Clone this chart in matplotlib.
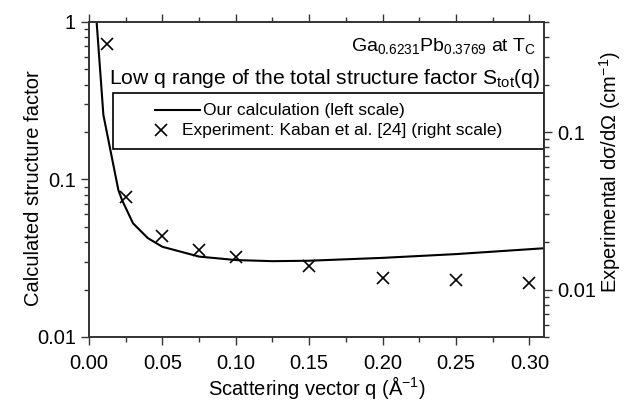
import matplotlib
matplotlib.use("Agg")
import matplotlib.pyplot as plt
from matplotlib.patches import Rectangle
from matplotlib.ticker import MultipleLocator, LogLocator, NullFormatter, FixedLocator, FixedFormatter

plt.rcParams['font.family'] = ['Liberation Sans', 'DejaVu Sans']
plt.rcParams['mathtext.fontset'] = 'custom'
plt.rcParams['mathtext.rm'] = 'Liberation Sans'
plt.rcParams['mathtext.it'] = 'Liberation Sans:italic'
plt.rcParams['mathtext.bf'] = 'Liberation Sans:bold'

# Calculated structure factor (left scale)
calc_q = [0.0052, 0.0098, 0.020, 0.0225, 0.030, 0.040, 0.050, 0.075, 0.100, 0.125, 0.150, 0.200, 0.250, 0.310]
calc_s = [1.0, 0.257, 0.0858, 0.0741, 0.0527, 0.0425, 0.0374, 0.0324, 0.0308, 0.0303, 0.0305, 0.0318, 0.0336, 0.0366]

# Experimental data (right scale)
exp_q = [0.0125, 0.025, 0.05, 0.075, 0.10, 0.15, 0.20, 0.25, 0.30]
exp_v = [0.362, 0.0387, 0.0220, 0.0178, 0.0160, 0.0141, 0.0119, 0.0115, 0.0110]

x_ticks = [0.00, 0.05, 0.10, 0.15, 0.20, 0.25, 0.30]
x_labels = ["0.00", "0.05", "0.10", "0.15", "0.20", "0.25", "0.30"]
legend_labels = ["Our calculation (left scale)", "Experiment: Kaban et al. [24] (right scale)"]

W, H = 631, 401
fig = plt.figure(figsize=(W / 100, H / 100), dpi=100)
L, R, T, B = 89, 544, 22, 337
ax = fig.add_axes([L / W, (H - B) / H, (R - L) / W, (B - T) / H])
ax2 = ax.twinx()

def ax_x(px):
    return (px - L) / (R - L)

def ax_y(py):
    return (B - py) / (B - T)

spine_col = '#333333'
ax.plot(calc_q, calc_s, color='black', lw=1.5)
ax2.plot(exp_q, exp_v, linestyle='none', marker='x', color='black', ms=9, mew=1.2)

ax.set_xlim(0, 0.31)
ax.set_yscale('log')
ax.set_ylim(0.01, 1)
ax2.set_yscale('log')
ax2.set_ylim(0.005, 0.5)

ax.xaxis.set_major_locator(FixedLocator(x_ticks))
ax.xaxis.set_major_formatter(FixedFormatter(x_labels))
ax.xaxis.set_minor_locator(MultipleLocator(0.025))
ax.yaxis.set_major_locator(FixedLocator([0.01, 0.1, 1]))
ax.yaxis.set_major_formatter(FixedFormatter(["0.01", "0.1", "1"]))
ax.yaxis.set_minor_locator(LogLocator(base=10, subs=range(2, 10)))
ax.yaxis.set_minor_formatter(NullFormatter())
ax2.yaxis.set_major_locator(FixedLocator([0.01, 0.1]))
ax2.yaxis.set_major_formatter(FixedFormatter(["0.01", "0.1"]))
ax2.yaxis.set_minor_locator(LogLocator(base=10, subs=range(2, 10)))
ax2.yaxis.set_minor_formatter(NullFormatter())

for a in (ax, ax2):
    for s in a.spines.values():
        s.set_color(spine_col)
        s.set_linewidth(1.2)
    a.tick_params(which='both', direction='out', colors=spine_col, labelcolor='black', labelsize=14.5, width=1.0)
    a.tick_params(which='major', length=6)
    a.tick_params(which='minor', length=3.5)
ax.tick_params(which='both', top=True)
ax.tick_params(axis='x', pad=6)

ax.set_xlabel(r"Scattering vector q ($\mathrm{\AA}^{\mathrm{-1}}$)", fontsize=14.5, labelpad=1)
ax.set_ylabel("Calculated structure factor", fontsize=14.5)
ax.yaxis.set_label_coords(ax_x(43), ax_y(188))
ax2.set_ylabel(r"Experimental d$\mathrm{\sigma}$/d$\mathrm{\Omega}$ (cm$^{\mathrm{-1}}$)", fontsize=14.5)
ax2.yaxis.set_label_coords(ax_x(597), ax_y(172))

ax.text(ax_x(536), ax_y(46), r"Ga$_{\mathrm{0.6231}}$Pb$_{\mathrm{0.3769}}$ at T$_{\mathrm{C}}$",
        transform=ax.transAxes, ha='right', va='center', fontsize=14)
ax.text(ax_x(540), ax_y(79), r"Low q range of the total structure factor S$_{\mathrm{tot}}$(q)",
        transform=ax.transAxes, ha='right', va='center', fontsize=15.2)

# legend (frame, sample marks and texts)
ax.add_patch(Rectangle((ax_x(113), ax_y(149)), 1 - ax_x(113), ax_y(93) - ax_y(149),
                       transform=ax.transAxes, fill=False, edgecolor='black', lw=1.2, zorder=5))
ax.plot([ax_x(155), ax_x(200)], [ax_y(110), ax_y(110)], transform=ax.transAxes,
        color='black', lw=1.5, clip_on=False)
ax.plot([ax_x(161)], [ax_y(130)], transform=ax.transAxes, linestyle='none', marker='x',
        color='black', ms=9, mew=1.2, clip_on=False)
ax.text(ax_x(203), ax_y(110), legend_labels[0], transform=ax.transAxes,
        ha='left', va='center', fontsize=12.5)
ax.text(ax_x(182), ax_y(130), legend_labels[1], transform=ax.transAxes,
        ha='left', va='center', fontsize=12.5)

fig.savefig("out.png", dpi=100)
